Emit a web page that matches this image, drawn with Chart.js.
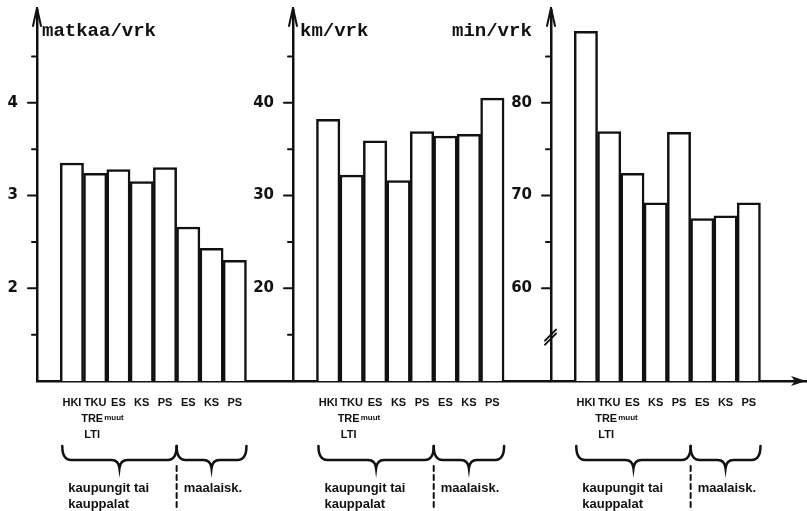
<!DOCTYPE html>
<html>
<head>
<meta charset="utf-8">
<script src="https://cdn.jsdelivr.net/npm/chart.js@4/dist/chart.umd.min.js"></script>
<style>
  body { margin: 0; background: #fff; width: 807px; height: 511px; overflow: hidden; position: relative; }
  .box { position: absolute; top: 0; height: 511px; }
  .ttl { position: absolute; top: 20px; line-height: 22px; font: bold 19px "Liberation Mono", monospace; color: #111; }
</style>
</head>
<body>
<div class="box" style="left:0;width:293px"><canvas id="c1"></canvas></div>
<div class="box" style="left:248px;width:303px"><canvas id="c2"></canvas></div>
<div class="box" style="left:506px;width:301px"><canvas id="c3"></canvas></div>
<div class="ttl" style="left:42px">matkaa/vrk</div>
<div class="ttl" style="left:300px">km/vrk</div>
<div class="ttl" style="left:452px">min/vrk</div>
<script>
// alueet: HKI, TKU/TRE/LTI, muut kaupungit ES KS PS, maalaiskunnat ES KS PS
const groups = ['HKI', 'TKU', 'ES', 'KS', 'PS', 'ES', 'KS', 'PS'];
const tripsPerDay = [3.35, 3.24, 3.28, 3.15, 3.30, 2.66, 2.43, 2.30];
const kmPerDay = [38.2, 32.2, 35.9, 31.6, 36.9, 36.4, 36.6, 40.5];
const minPerDay = [87.7, 76.9, 72.4, 69.2, 76.8, 67.5, 67.8, 69.2];
const tripTicks = [2, 3, 4];
const kmTicks = [20, 30, 40];
const minTicks = [60, 70, 80];

const INK = '#111';

function line(ctx, x1, y1, x2, y2) {
  ctx.beginPath(); ctx.moveTo(x1, y1); ctx.lineTo(x2, y2); ctx.stroke();
}

function decor(opt) {
  return {
    id: 'decor',
    afterDraw(chart) {
      const ctx = chart.ctx, xs = chart.scales.x, ys = chart.scales.y, a = chart.chartArea;
      ctx.save();
      ctx.strokeStyle = INK; ctx.fillStyle = INK; ctx.lineWidth = 2; ctx.lineCap = 'round';

      // y-akselin jakoviivat
      ys.ticks.forEach(t => {
        const v = t.value;
        if (v <= ys.min || v >= ys.max) return;
        const py = ys.getPixelForValue(v);
        if (opt.breakAt === v) {
          line(ctx, a.left - 6, py + 6, a.left + 5, py - 5);
          line(ctx, a.left - 6, py + 10, a.left + 5, py - 1);
          return;
        }
        const len = opt.major.includes(v) ? 9 : 5;
        line(ctx, a.left - len, py, a.left, py);
      });

      // nuoli y-akselin päässä
      line(ctx, a.left, a.top - 2, a.left, a.top + 10);
      line(ctx, a.left, a.top - 2, a.left - 4, a.top + 16);
      line(ctx, a.left, a.top - 2, a.left + 4, a.top + 16);

      // x-akselin nuoli
      if (opt.arrow) {
        const yb = a.bottom;
        ctx.beginPath();
        ctx.moveTo(a.right - 1, yb);
        ctx.lineTo(a.right - 16, yb - 5);
        ctx.lineTo(a.right - 12, yb);
        ctx.lineTo(a.right - 16, yb + 5);
        ctx.closePath(); ctx.fill();
      }

      const slot = xs.getPixelForValue(2) - xs.getPixelForValue(1);
      const L = xs.getPixelForValue(1) - slot / 2 + 2;
      const J = xs.getPixelForValue(5) + slot / 2;
      const R = xs.getPixelForValue(8) + slot / 2;

      // TRE / muut / LTI
      const cx = xs.getPixelForValue(2) - 3;
      ctx.textAlign = 'center'; ctx.textBaseline = 'middle';
      ctx.font = 'bold 11px "Liberation Sans", sans-serif';
      ctx.fillText('TRE', cx, 419);
      ctx.fillText('LTI', cx, 435);
      ctx.textAlign = 'left';
      ctx.font = 'bold 8px "Liberation Sans", sans-serif';
      ctx.fillText('muut', cx + 12, 418);

      // aaltosulkeet
      ctx.lineWidth = 2.5;
      const brace = (x0, x1) => {
        const m = (x0 + x1) / 2, top = 446, flat = 460, tip = 468;
        ctx.beginPath();
        ctx.moveTo(x0, top);
        ctx.quadraticCurveTo(x0, flat, x0 + 9, flat);
        ctx.lineTo(m - 8, flat);
        ctx.quadraticCurveTo(m - 1, flat, m, tip);
        ctx.quadraticCurveTo(m + 1, flat, m + 8, flat);
        ctx.lineTo(x1 - 9, flat);
        ctx.quadraticCurveTo(x1, flat, x1, top);
        ctx.stroke();
      };
      brace(L, J);
      brace(J, R);

      // katkoviiva
      ctx.lineWidth = 2;
      ctx.setLineDash([5, 4]);
      line(ctx, J, 466, J, 511);
      ctx.setLineDash([]);

      ctx.font = 'bold 13px "Liberation Sans", sans-serif';
      ctx.textAlign = 'left';
      ctx.fillText('kaupungit tai', L + 6, 488);
      ctx.fillText('kauppalat', L + 6, 504);
      ctx.fillText('maalaisk.', J + 7, 488);
      ctx.restore();
    }
  };
}

function makeChart(id, values, yMin, yMax, step, labeled, axisW, opt) {
  const tickFont = { family: '"DejaVu Sans", sans-serif', weight: 'bold', size: 15 };
  return new Chart(document.getElementById(id), {
    type: 'bar',
    data: {
      labels: ['', ...groups, '', ''],
      datasets: [{
        data: [null, ...values, null, null],
        backgroundColor: '#fff',
        borderColor: INK,
        borderWidth: 2.5,
        barPercentage: 1,
        categoryPercentage: 1
      }]
    },
    options: {
      responsive: true,
      maintainAspectRatio: false,
      animation: false,
      layout: { padding: { top: 10, left: 0, right: 0, bottom: 0 } },
      plugins: { legend: { display: false }, tooltip: { enabled: false } },
      scales: {
        x: {
          grid: { display: false },
          border: { display: true, color: INK, width: 2.5 },
          ticks: {
            autoSkip: false, maxRotation: 0, padding: 7, color: INK,
            font: { family: '"Liberation Sans", sans-serif', weight: 'bold', size: 11 }
          },
          afterFit(s) { s.height = 130; s.paddingLeft = 0; s.paddingRight = 0; }
        },
        y: {
          min: yMin, max: yMax,
          grid: { display: false },
          border: { display: true, color: INK, width: 2.5 },
          ticks: {
            stepSize: step, padding: 11, color: INK, font: tickFont,
            callback: v => labeled.includes(v) ? String(v) : ''
          },
          afterFit(s) { s.width = axisW; s.paddingTop = 0; s.paddingBottom = 0; }
        }
      }
    },
    plugins: [decor(opt)]
  });
}

makeChart('c1', tripsPerDay, 1, 5, 0.5, tripTicks, 37, { major: tripTicks });
makeChart('c2', kmPerDay, 10, 50, 5, kmTicks, 45, { major: kmTicks });
makeChart('c3', minPerDay, 50, 90, 5, minTicks, 45, { major: minTicks, breakAt: 55, arrow: true });
</script>
</body>
</html>
